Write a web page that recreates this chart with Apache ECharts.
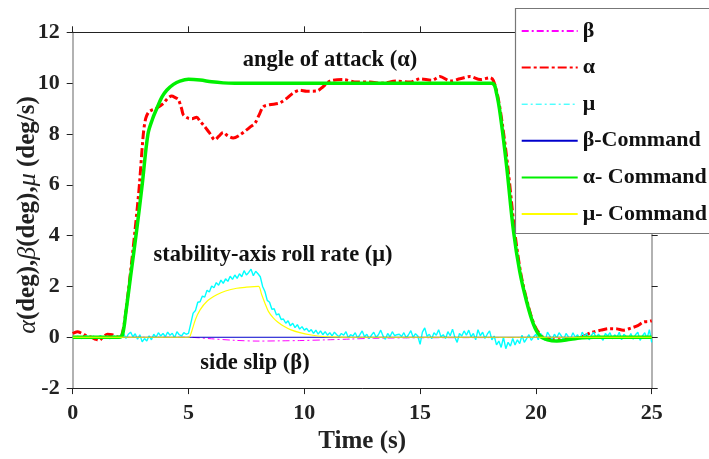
<!DOCTYPE html>
<html>
<head>
<meta charset="utf-8">
<script src="https://cdn.jsdelivr.net/npm/echarts@6/dist/echarts.min.js"></script>
<style>html,body{margin:0;padding:0;background:#fff;}#c{width:709px;height:459px;}</style>
</head>
<body>
<div id="c"></div>
<script>
// ---------------- data ----------------
const xTicks = [0, 5, 10, 15, 20, 25];
const yTicks = [-2, 0, 2, 4, 6, 8, 10, 12];
const legendNames = ['β', 'α', 'μ', 'β-Command', 'α- Command', 'μ- Command'];

// alpha command (deg)
const tAlphaCmd = [0, 2.0, 2.15, 2.3, 2.5, 2.76, 3.0, 3.25, 3.45, 3.63, 3.85, 4.06, 4.35, 4.63, 5.0, 5.5, 6.0, 6.5, 7.0, 18.09, 18.3, 18.5, 18.74, 19.03, 19.3, 19.6, 19.9, 20.18, 20.5, 20.9, 21.5, 22.0, 22.5, 25];
const vAlphaCmd = [0, 0, 0.1, 1.0, 2.4, 4.2, 6.0, 8.0, 8.6, 9.0, 9.45, 9.72, 9.95, 10.08, 10.15, 10.12, 10.05, 10.01, 10, 10, 9.6, 8.5, 6.7, 4.2, 2.6, 1.4, 0.5, 0.05, -0.1, -0.15, -0.08, -0.02, 0, 0];

// alpha (deg)
const tAlpha = [0, 0.2, 0.4, 0.6, 0.8, 1.0, 1.15, 1.3, 1.5, 1.7, 1.9, 2.05, 2.2, 2.4, 2.55, 2.69, 2.8, 2.88, 3.05, 3.15, 3.27, 3.41, 3.6, 3.91, 4.1, 4.27, 4.45, 4.56, 4.7, 4.78, 4.99, 5.15, 5.35, 5.5, 5.64, 5.9, 6.14, 6.3, 6.5, 6.7, 6.93, 7.2, 7.51, 7.7, 7.87, 8.05, 8.23, 8.5, 8.88, 9.05, 9.24, 9.5, 9.81, 10.1, 10.54, 10.8, 11.11, 11.68, 12.26, 12.84, 13.34, 13.99, 14.56, 15.0, 15.5, 15.86, 16.3, 16.72, 17.16, 17.6, 18.02, 18.16, 18.35, 18.55, 18.8, 19.08, 19.35, 19.65, 19.95, 20.25, 20.6, 21.0, 21.5, 22.0, 22.35, 22.8, 23.2, 23.5, 23.77, 24.1, 24.4, 24.64, 24.85, 25];
const vAlpha = [0.15, 0.22, 0.15, 0.05, 0.0, -0.08, -0.12, 0.0, 0.12, 0.1, 0.02, 0.0, 0.4, 1.8, 3.0, 4.2, 5.2, 6.0, 8.0, 8.6, 8.85, 8.94, 9.0, 9.2, 9.4, 9.49, 9.42, 9.36, 9.0, 8.75, 8.62, 8.6, 8.66, 8.5, 8.36, 8.05, 7.77, 7.9, 8.06, 7.92, 7.84, 7.95, 8.16, 8.3, 8.42, 8.75, 9.07, 9.15, 9.2, 9.28, 9.4, 9.6, 9.72, 9.68, 9.69, 9.85, 10.08, 10.14, 10.04, 10.04, 10.0, 10.08, 10.04, 10.17, 10.11, 10.26, 10.08, 10.17, 10.26, 10.14, 10.21, 10.11, 9.5, 8.4, 6.6, 4.2, 2.5, 1.3, 0.45, 0.05, -0.08, -0.1, -0.05, 0.02, 0.17, 0.28, 0.34, 0.33, 0.28, 0.36, 0.46, 0.6, 0.62, 0.65];

// mu (deg/s), sampled every 0.1 s starting at t = 0
const muStep = 0.1;
const vMu = [
  0.02, -0.03, 0.04, 0.01, -0.05, 0.03, 0.06, -0.02, 0.0, 0.05, -0.04,
  0.02, 0.07, -0.03, 0.01, 0.04, -0.06, 0.03, 0.05, -0.02, 0.04,
  0.08, 0.15, -0.05, 0.12, 0.2, 0.02, 0.14, -0.08, 0.1, -0.18,
  -0.05, -0.15, 0.06, -0.1, 0.12, 0.0, 0.18, 0.05, 0.15, 0.02,
  0.2, 0.08, 0.16, -0.02, 0.22, 0.1, 0.05, 0.18, 0.12, 0.15,
  0.55, 0.95, 1.05, 1.38, 1.4, 1.62, 1.58, 1.85, 1.78, 2.02,
  1.95, 2.15, 2.05, 2.25, 2.12, 2.3, 2.2, 2.4, 2.28, 2.45,
  2.32, 2.5, 2.38, 2.62, 2.45, 2.55, 2.68, 2.42, 2.6, 2.5,
  2.38, 2.0, 1.8, 1.45, 1.38, 1.1, 1.12, 0.88, 0.92, 0.7,
  0.72, 0.55, 0.65, 0.45, 0.55, 0.38, 0.5, 0.32, 0.42, 0.28,
  0.35, 0.22, 0.3, 0.15, 0.28, 0.12, 0.25, 0.1, 0.22, 0.08,
  0.18, 0.05, 0.2, 0.1, 0.02, 0.15, 0.08, 0.22, -0.02, 0.1,
  0.05, 0.18, -0.03, 0.1, 0.25, 0.02, 0.12, -0.05, 0.08, 0.2,
  0.0, 0.1, 0.28, 0.05, -0.08, 0.15, 0.02, 0.22, 0.06, 0.1,
  0.12, 0.03, 0.18, -0.02, 0.1, 0.26, 0.0, 0.14, 0.05, -0.28,
  0.2, 0.37, 0.04, 0.12, -0.06, 0.18, 0.08, 0.3, 0.02, 0.1,
  -0.05, 0.22, 0.06, 0.32, 0.0, -0.2, 0.15, 0.05, 0.25, 0.08,
  0.28, 0.02, 0.15, -0.1, 0.3, 0.06, 0.2, -0.05, 0.12, 0.25,
  -0.1, 0.05, -0.3, -0.15, -0.4, 0.0, -0.45, -0.2, -0.35, -0.05,
  -0.3, -0.1, -0.25, 0.08, -0.2, -0.05, 0.1, -0.12, 0.02, 0.12,
  -0.1, 0.15, 0.0, -0.12, 0.2, 0.05, -0.08, 0.12, -0.02, 0.18,
  0.05, -0.1, 0.15, 0.02, -0.05, 0.18, 0.0, 0.1, -0.08, 0.2,
  0.02, 0.15, -0.1, 0.08, 0.2, -0.03, 0.12, 0.0, -0.12, 0.15,
  0.05, 0.18, -0.06, 0.1, 0.0, 0.2, -0.1, 0.12, 0.03, -0.05,
  0.15, -0.08, 0.1, 0.2, -0.12, 0.05, 0.18, -0.05, 0.3, -0.2
];

// mu command (deg/s)
const tMuCmd = [0, 5.0, 5.07, 5.3, 5.5, 5.8, 6.22, 6.6, 7.08, 7.5, 8.02, 8.15, 8.3, 8.45, 8.66, 8.85, 9.1, 9.4, 9.81, 10.3, 10.8, 11.5, 12, 25];
const vMuCmd = [0, 0, 0.05, 0.7, 1.08, 1.42, 1.67, 1.82, 1.93, 1.97, 2.0, 1.7, 1.34, 1.02, 0.76, 0.6, 0.44, 0.3, 0.18, 0.09, 0.03, 0.01, 0, 0];

// beta (deg)
const tBeta = [0, 5.0, 6.0, 7.0, 8.0, 9.0, 9.8, 11.0, 12.0, 13.0, 15.0, 25];
const vBeta = [0, 0, -0.06, -0.12, -0.15, -0.14, -0.13, -0.1, -0.07, -0.04, -0.02, 0];

// beta command (deg)
const tBetaCmd = [0, 25];
const vBetaCmd = [0, 0];

// ---------------- chart ----------------
const zip = (t, v) => t.map((x, i) => [x, v[i]]);
const muData = vMu.map((v, i) => [+(i * muStep).toFixed(2), v]);

const serif = '"Liberation Serif","Times New Roman",serif';
const chart = echarts.init(document.getElementById('c'), null, { renderer: 'canvas' });

const tickLabelStyle = { fontFamily: serif, fontWeight: 'bold', fontSize: 22, color: '#222' };

chart.setOption({
  animation: false,
  backgroundColor: '#fff',
  grid: { left: 72.7, right: 57.3, top: 32.3, bottom: 67.3, containLabel: false },
  xAxis: [
    {
      type: 'value', min: 0, max: 25, interval: 5, position: 'bottom',
      axisLine: { show: true, onZero: false, lineStyle: { color: '#222', width: 1 } },
      axisTick: { show: true, inside: false, length: 6, lineStyle: { color: '#222' } },
      axisLabel: Object.assign({ margin: 14, formatter: v => xTicks.includes(v) ? String(v) : '' }, tickLabelStyle),
      splitLine: { show: false },
      name: 'Time (s)', nameLocation: 'middle', nameGap: 40,
      nameTextStyle: { fontFamily: serif, fontWeight: 'bold', fontSize: 25, color: '#222' }
    },
    {
      type: 'value', min: 0, max: 25, interval: 5, position: 'top',
      axisLine: { show: true, onZero: false, lineStyle: { color: '#222', width: 1 } },
      axisTick: { show: true, inside: false, length: 6, lineStyle: { color: '#222' } },
      axisLabel: { show: false }, splitLine: { show: false }
    }
  ],
  yAxis: [
    {
      type: 'value', min: -2, max: 12, interval: 2, position: 'left',
      axisLine: { show: true, onZero: false, lineStyle: { color: '#999', width: 1.5 } },
      axisTick: { show: true, inside: false, length: 6, lineStyle: { color: '#222' } },
      axisLabel: Object.assign({ margin: 13, formatter: v => yTicks.includes(v) ? String(v) : '' }, tickLabelStyle),
      splitLine: { show: false }
    },
    {
      type: 'value', min: -2, max: 12, interval: 2, position: 'right',
      axisLine: { show: true, onZero: false, lineStyle: { color: '#999', width: 1.5 } },
      axisTick: { show: true, inside: false, length: 6, lineStyle: { color: '#222' } },
      axisLabel: { show: false }, splitLine: { show: false }
    }
  ],
  legend: {
    orient: 'vertical', left: 520.7, top: 20, padding: 0,
    itemWidth: 56, itemHeight: 14, itemGap: 14.6, z: 110,
    itemStyle: { opacity: 0 },
    textStyle: { fontFamily: serif, fontWeight: 'bold', fontSize: 22, color: '#111', lineHeight: 20 },
    data: [
      { name: 'β' },
      { name: 'α' },
      { name: 'μ', lineStyle: { type: [6, 3, 2, 3], width: 1, color: '#00ffff' } },
      { name: 'β-Command' },
      { name: 'α- Command' },
      { name: 'μ- Command' }
    ]
  },
  graphic: [
    { type: 'rect', z: 100, shape: { x: 515.5, y: 8.5, width: 300, height: 225 }, style: { fill: '#fff', stroke: '#777', lineWidth: 1.2 } },
    { type: 'text', z: 50, x: 330, y: 60, style: { text: 'angle of attack (α)', font: 'bold 22.5px ' + serif, fill: '#111', textAlign: 'center', textVerticalAlign: 'middle' } },
    { type: 'text', z: 50, x: 273, y: 255, style: { text: 'stability-axis roll rate (μ)', font: 'bold 22.5px ' + serif, fill: '#111', textAlign: 'center', textVerticalAlign: 'middle' } },
    { type: 'text', z: 50, x: 255, y: 363, style: { text: 'side slip (β)', font: 'bold 22.5px ' + serif, fill: '#111', textAlign: 'center', textVerticalAlign: 'middle' } },
    {
      type: 'text', z: 50, x: 28, y: 215, rotation: Math.PI / 2,
      style: {
        text: '{g|α}{b|(deg),}{g|β}{b|(deg),}{g|μ}{b| (deg/s)}',
        textAlign: 'center', textVerticalAlign: 'middle',
        rich: {
          g: { fontFamily: serif, fontStyle: 'italic', fontSize: 26, fill: '#222', color: '#222' },
          b: { fontFamily: serif, fontWeight: 'bold', fontSize: 25, fill: '#222', color: '#222' }
        }
      }
    }
  ],
  series: [
    { name: 'β', type: 'line', data: zip(tBeta, vBeta), showSymbol: false, symbol: 'none', smooth: 0.3,
      lineStyle: { color: '#ff00ff', width: 1, type: [7, 3, 2, 3] }, itemStyle: { color: '#ff00ff' }, z: 2 },
    { name: 'α', type: 'line', data: zip(tAlpha, vAlpha), showSymbol: false, symbol: 'none', smooth: 0.3,
      lineStyle: { color: '#ff0000', width: 3, type: [9, 3, 3, 3] }, itemStyle: { color: '#ff0000' }, z: 3 },
    { name: 'μ', type: 'line', data: muData, showSymbol: false, symbol: 'none',
      lineStyle: { color: '#00ffff', width: 1.4 }, itemStyle: { color: '#00ffff' }, z: 4 },
    { name: 'β-Command', type: 'line', data: zip(tBetaCmd, vBetaCmd), showSymbol: false, symbol: 'none',
      lineStyle: { color: '#0000cc', width: 1 }, itemStyle: { color: '#0000cc' }, z: 5 },
    { name: 'α- Command', type: 'line', data: zip(tAlphaCmd, vAlphaCmd), showSymbol: false, symbol: 'none', smooth: 0.35,
      lineStyle: { color: '#00f000', width: 3.5 }, itemStyle: { color: '#00f000' }, z: 6 },
    { name: 'μ- Command', type: 'line', data: zip(tMuCmd, vMuCmd), showSymbol: false, symbol: 'none', smooth: 0.3,
      lineStyle: { color: '#ffff00', width: 1.2 }, itemStyle: { color: '#ffff00' }, z: 7 }
  ]
});
</script>
</body>
</html>
